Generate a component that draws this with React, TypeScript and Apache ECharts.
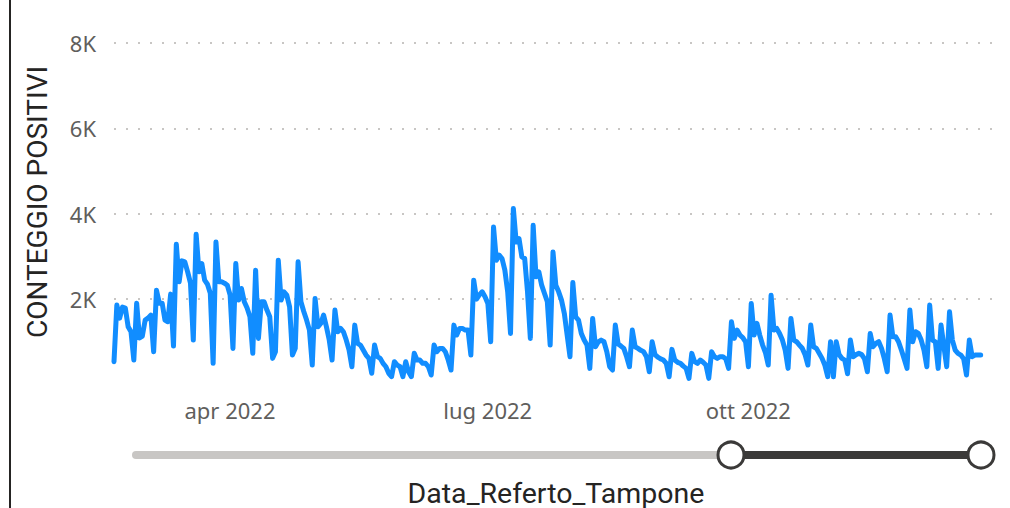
import React, { useEffect, useRef } from "react";
import * as echarts from "echarts";

// Daily positive counts, first day = 2022-02-21 (Monday)
const START_DATE = "2022-02-21";
const AXIS_DAYS = 311; // axis runs a few days past the last value

// Feb 21 – May 8
const positivesPart1 = [
  533, 1860, 1555, 1812, 1790, 1352, 1235,
  573, 1906, 1088, 1134, 1509, 1555, 1626,
  767, 2210, 1906, 1906, 1509, 1470, 2117,
  900, 3286, 2405, 2896, 2873, 2639, 2374,
  1041, 3520, 2639, 2834, 2444, 2350, 2140,
  495, 3340, 2405, 2405, 2374, 2327, 2093,
  846, 2834, 1977, 2250, 1937, 1790, 1586,
  730, 2678, 1080, 1937, 1937, 1743, 1586,
  612, 767, 2912, 1977, 2171, 2093, 1820,
  690, 846, 2873, 1937, 1711, 1509, 1275,
  456, 2016, 1352, 1430, 1626, 1352, 1041,
];
// May 9 – Jul 24
const positivesPart2 = [
  573, 1743, 1235, 1313, 1235, 1041, 807,
  416, 1391, 963, 924, 807, 690, 612,
  262, 924, 651, 612, 495, 416, 262,
  183, 533, 456, 416, 183, 533, 300,
  183, 730, 573, 573, 495, 495, 416,
  222, 924, 767, 846, 846, 767, 573,
  339, 1391, 1158, 1313, 1313, 1275, 1275,
  690, 2444, 2000, 2100, 2171, 2054, 1900,
  1001, 3691, 2912, 3029, 2951, 2678, 2171,
  1197, 4121, 3340, 3418, 2990, 2951, 2171,
  1080, 3730, 2522, 2639, 2327, 2132, 1937,
];
// Jul 25 – Oct 9
const positivesPart3 = [
  924, 3106, 2327, 2171, 1977, 1665, 1158,
  651, 2390, 1586, 1509, 1197, 1041, 924,
  378, 1548, 885, 1001, 1041, 1002, 767,
  420, 339, 1392, 950, 900, 846, 651,
  417, 1275, 885, 846, 800, 768, 651,
  300, 1002, 700, 640, 600, 573, 495,
  183, 823, 573, 520, 495, 430, 378,
  144, 729, 534, 495, 573, 520, 456,
  144, 768, 651, 612, 651, 651, 600,
  378, 1469, 1080, 1275, 1158, 1100, 1000,
  417, 1899, 1158, 1431, 1158, 924, 750,
];
// Oct 10 – Dec 24
const positivesPart4 = [
  456, 2093, 1275, 1314, 1197, 1041, 800,
  378, 1548, 1041, 1002, 924, 850, 700,
  456, 1392, 885, 846, 729, 612, 450,
  183, 1002, 183, 1000, 700, 612, 573,
  250, 1041, 651, 700, 729, 700, 600,
  300, 1197, 885, 963, 1002, 846, 600,
  300, 1626, 1119, 1119, 1002, 807, 600,
  378, 1743, 1002, 1236, 1197, 1041, 800,
  417, 1860, 1041, 1000, 378, 1392, 900,
  417, 1704, 1041, 807, 729, 690, 600,
  222, 1041, 651, 690, 690, 690,
];

const MONTHS_IT = ["gen", "feb", "mar", "apr", "mag", "giu", "lug", "ago", "set", "ott", "nov", "dic"];
const LABEL_MONTHS = ["04", "07", "10"];
const Y_MIN = 0;
const Y_MAX = 8000;
const Y_STEP = 2000;

const X_TITLE = "Data_Referto_Tampone";
const Y_TITLE = "CONTEGGIO POSITIVI";

function buildDates(): string[] {
  const [y, m, d] = START_DATE.split("-").map(Number);
  const out: string[] = [];
  for (let i = 0; i < AXIS_DAYS; i++) {
    const dt = new Date(Date.UTC(y, m - 1, d + i));
    out.push(dt.toISOString().slice(0, 10));
  }
  return out;
}

export default function App() {
  const ref = useRef<HTMLDivElement>(null);

  useEffect(() => {
    document.body.style.margin = "0";
    if (!ref.current) return;
    const chart = echarts.init(ref.current, undefined, { renderer: "svg" });
    const dates = buildDates();
    const values = [...positivesPart1, ...positivesPart2, ...positivesPart3, ...positivesPart4];

    const titleFont = "Roboto, 'DejaVu Sans', sans-serif";
    const tickFont = "'Noto Sans', 'Open Sans', sans-serif";

    chart.setOption({
      animation: false,
      backgroundColor: "#ffffff",
      grid: { left: 114, right: 18, top: 43, bottom: 123.5, containLabel: false },
      xAxis: {
        type: "category",
        data: dates,
        boundaryGap: false,
        axisLine: { show: false },
        axisTick: { show: false },
        splitLine: { show: false },
        axisLabel: {
          interval: (_i: number, v: string) => {
            const p = v.split("-");
            return p[2] === "01" && LABEL_MONTHS.includes(p[1]);
          },
          formatter: (v: string) => {
            const p = v.split("-");
            return MONTHS_IT[Number(p[1]) - 1] + " " + p[0];
          },
          color: "#605E5C",
          fontSize: 22,
          fontFamily: tickFont,
          margin: 14,
          padding: [0, 0, 0, 11],
        },
      },
      yAxis: {
        type: "value",
        min: Y_MIN,
        max: Y_MAX,
        interval: Y_STEP,
        axisLine: { show: false },
        axisTick: { show: false },
        axisLabel: {
          formatter: (v: number) => (v === 0 ? "" : v / 1000 + "K"),
          color: "#605E5C",
          fontSize: 22,
          fontFamily: tickFont,
          margin: 18,
        },
        splitLine: {
          show: true,
          showMinLine: false,
          lineStyle: { color: "#C8C6C4", width: 2, type: [2, 10] },
        },
      },
      series: [
        {
          type: "line",
          data: values,
          showSymbol: false,
          symbol: "none",
          lineStyle: { color: "#118DFF", width: 5, cap: "round", join: "round" },
          itemStyle: { color: "#118DFF" },
        },
      ],
      graphic: [
        {
          type: "line",
          shape: { x1: 10, y1: 0, x2: 10, y2: 508 },
          style: { stroke: "#252423", lineWidth: 2 },
        },
        {
          type: "text",
          x: 37,
          y: 202,
          rotation: Math.PI / 2,
          style: {
            text: Y_TITLE,
            fontSize: 28,
            fontWeight: "normal",
            fontFamily: titleFont,
            fill: "#252423",
            align: "center",
            verticalAlign: "middle",
            textAlign: "center",
            textVerticalAlign: "middle",
          },
        },
        {
          type: "text",
          x: 556,
          y: 493,
          style: {
            text: X_TITLE,
            fontSize: 28.5,
            fontWeight: "normal",
            fontFamily: titleFont,
            fill: "#252423",
            align: "center",
            verticalAlign: "middle",
            textAlign: "center",
            textVerticalAlign: "middle",
          },
        },
        {
          type: "line",
          shape: { x1: 136, y1: 455, x2: 731, y2: 455 },
          style: { stroke: "#C8C6C4", lineWidth: 8, lineCap: "round" },
        },
        {
          type: "line",
          shape: { x1: 731, y1: 455, x2: 981, y2: 455 },
          style: { stroke: "#3B3A39", lineWidth: 8, lineCap: "round" },
        },
        {
          type: "circle",
          shape: { cx: 731, cy: 455, r: 13 },
          style: { fill: "#ffffff", stroke: "#3B3A39", lineWidth: 3 },
        },
        {
          type: "circle",
          shape: { cx: 981, cy: 455, r: 13 },
          style: { fill: "#ffffff", stroke: "#3B3A39", lineWidth: 3 },
        },
      ],
    });

    return () => chart.dispose();
  }, []);

  return <div ref={ref} style={{ width: 1010, height: 508 }} />;
}
